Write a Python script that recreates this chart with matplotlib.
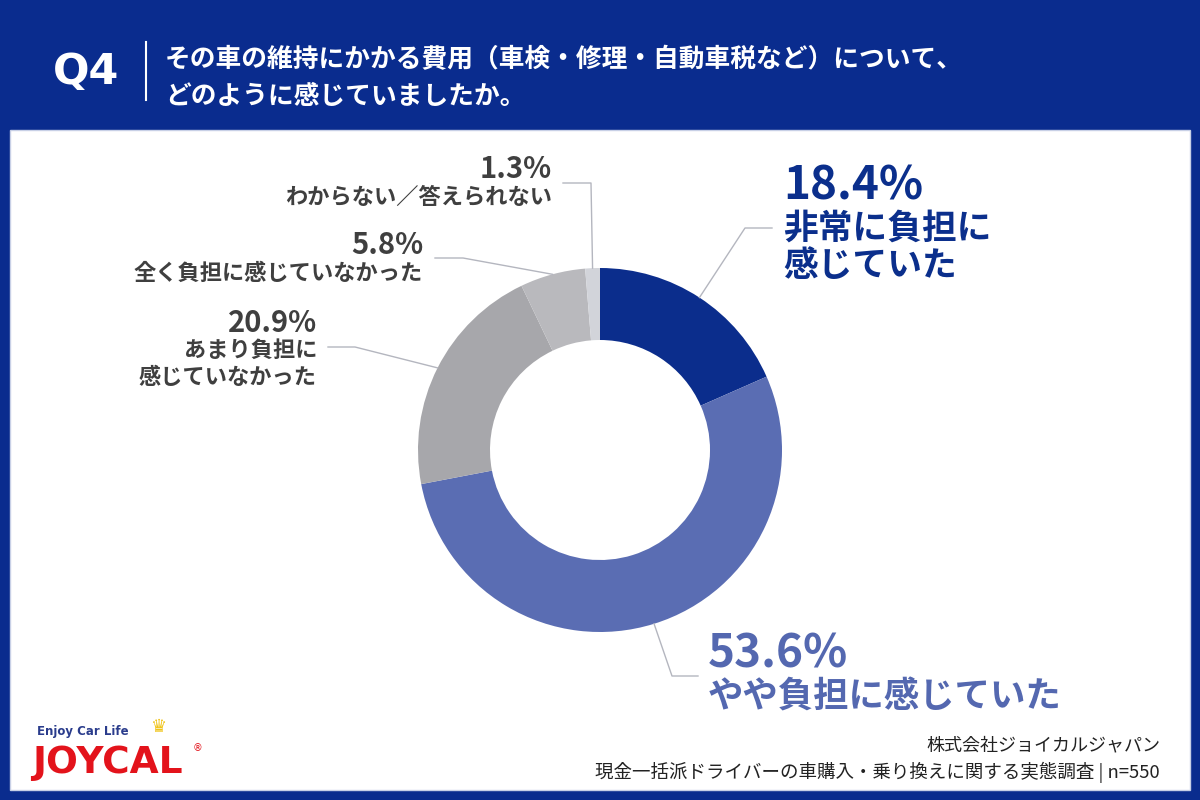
import numpy as np
import matplotlib.pyplot as plt
from matplotlib.patches import Rectangle

plt.rcParams['font.family'] = ['Noto Sans CJK JP', 'DejaVu Sans']

# データ
pcts = ['18.4%', '53.6%', '20.9%', '5.8%', '1.3%']
values = [18.4, 53.6, 20.9, 5.8, 1.3]
labels = ['非常に負担に\n感じていた', 'やや負担に感じていた',
          'あまり負担に\n感じていなかった', '全く負担に感じていなかった',
          'わからない／答えられない']
colors = ['#0b2d8c', '#5a6db3', '#a7a7ab', '#b9b9bd', '#d2d4da']

title1 = 'その車の維持にかかる費用（車検・修理・自動車税など）について、'
title2 = 'どのように感じていましたか。'
footer1 = '株式会社ジョイカルジャパン'
footer2 = '現金一括派ドライバーの車購入・乗り換えに関する実態調査 | n=550'

W, H = 1200, 800


def Y(y):
    return H - y


fig = plt.figure(figsize=(12, 8), dpi=100)
fig.patch.set_facecolor('#0a2c8e')
ax = fig.add_axes([0, 0, 1, 1])

# 白パネル
ax.add_patch(Rectangle((10, Y(790)), 1180, 660, facecolor='white',
                       edgecolor='#c8d0e6', lw=1, zorder=0))

# ドーナツ
cx, cy, r = 600, Y(450), 182
wedges, _ = ax.pie(values, colors=colors, startangle=90, counterclock=False,
                   radius=r, center=(cx, cy),
                   wedgeprops=dict(width=72, edgecolor='none'))
ax.set_xlim(0, W)
ax.set_ylim(0, H)
ax.set_aspect('equal')
ax.axis('off')

# 引き出し線 (肘の位置, 端の位置)
elbows = [(745, 228), (672, 676), (355, 347), (463, 258), (591, 183)]
ends = [(772, 228), (698, 676), (328, 347), (435, 258), (563, 183)]
line_c = '#b4b6bf'
for w, (ex, ey), (tx, ty) in zip(wedges, elbows, ends):
    th = np.deg2rad((w.theta1 + w.theta2) / 2)
    px, py = cx + r * np.cos(th), cy + r * np.sin(th)
    ax.plot([px, ex, tx], [py, Y(ey), Y(ty)], color=line_c, lw=1, zorder=3)

# 大きいラベル
ax.text(783, Y(186), pcts[0], fontsize=33, fontweight='bold', color='#0b2f8c',
        ha='left', va='center')
ax.text(783, Y(247), labels[0], fontsize=25, fontweight='bold', color='#0b2f8c',
        ha='left', va='center', linespacing=1.1)
ax.text(708, Y(655), pcts[1], fontsize=33, fontweight='bold', color='#5468b0',
        ha='left', va='center')
ax.text(708, Y(697), labels[1], fontsize=25.5, fontweight='bold', color='#5468b0',
        ha='left', va='center')

# 小さいラベル
gray = '#3f3f3f'
ax.text(317, Y(323), pcts[2], fontsize=21, fontweight='bold', color=gray,
        ha='right', va='center')
ax.text(317, Y(364), labels[2], fontsize=16, fontweight='bold', color=gray,
        ha='right', va='center', linespacing=1.2, multialignment='right')
ax.text(423, Y(245), pcts[3], fontsize=21, fontweight='bold', color=gray,
        ha='right', va='center')
ax.text(423, Y(273), labels[3], fontsize=16, fontweight='bold', color=gray,
        ha='right', va='center')
ax.text(552, Y(169), pcts[4], fontsize=21, fontweight='bold', color=gray,
        ha='right', va='center')
ax.text(552, Y(197), labels[4], fontsize=16, fontweight='bold', color=gray,
        ha='right', va='center')

# タイトル
ax.text(53, Y(72), 'Q4', fontsize=31, fontweight='bold', color='white',
        ha='left', va='center', family=['DejaVu Sans'])
ax.plot([146, 146], [Y(42), Y(100)], color='white', lw=1.5)
ax.text(165, Y(60), title1, fontsize=18.5, fontweight='bold', color='white',
        ha='left', va='center')
ax.text(165, Y(96), title2, fontsize=18.5, fontweight='bold', color='white',
        ha='left', va='center')

# フッター
ax.text(1160, Y(745), footer1, fontsize=13, color='#222222',
        ha='right', va='center')
ax.text(1160, Y(772), footer2, fontsize=13.3, color='#222222',
        ha='right', va='center')

# ロゴ
ax.text(37, Y(731), 'Enjoy Car Life', fontsize=8.5, fontweight='bold',
        color='#2a3c8c', ha='left', va='center', family=['DejaVu Sans'])
ax.text(32, Y(763), 'JOYCAL', fontsize=27, fontweight='bold',
        color='#e3131b', ha='left', va='center', family=['DejaVu Sans'])
ax.text(158, Y(727), '♛', fontsize=13, color='#f0c419', ha='center',
        va='center', family=['DejaVu Sans'])
ax.text(197, Y(748), '®', fontsize=7, color='#e3131b', ha='center',
        va='center', family=['DejaVu Sans'])

fig.savefig('out.png', dpi=100, facecolor=fig.get_facecolor())
